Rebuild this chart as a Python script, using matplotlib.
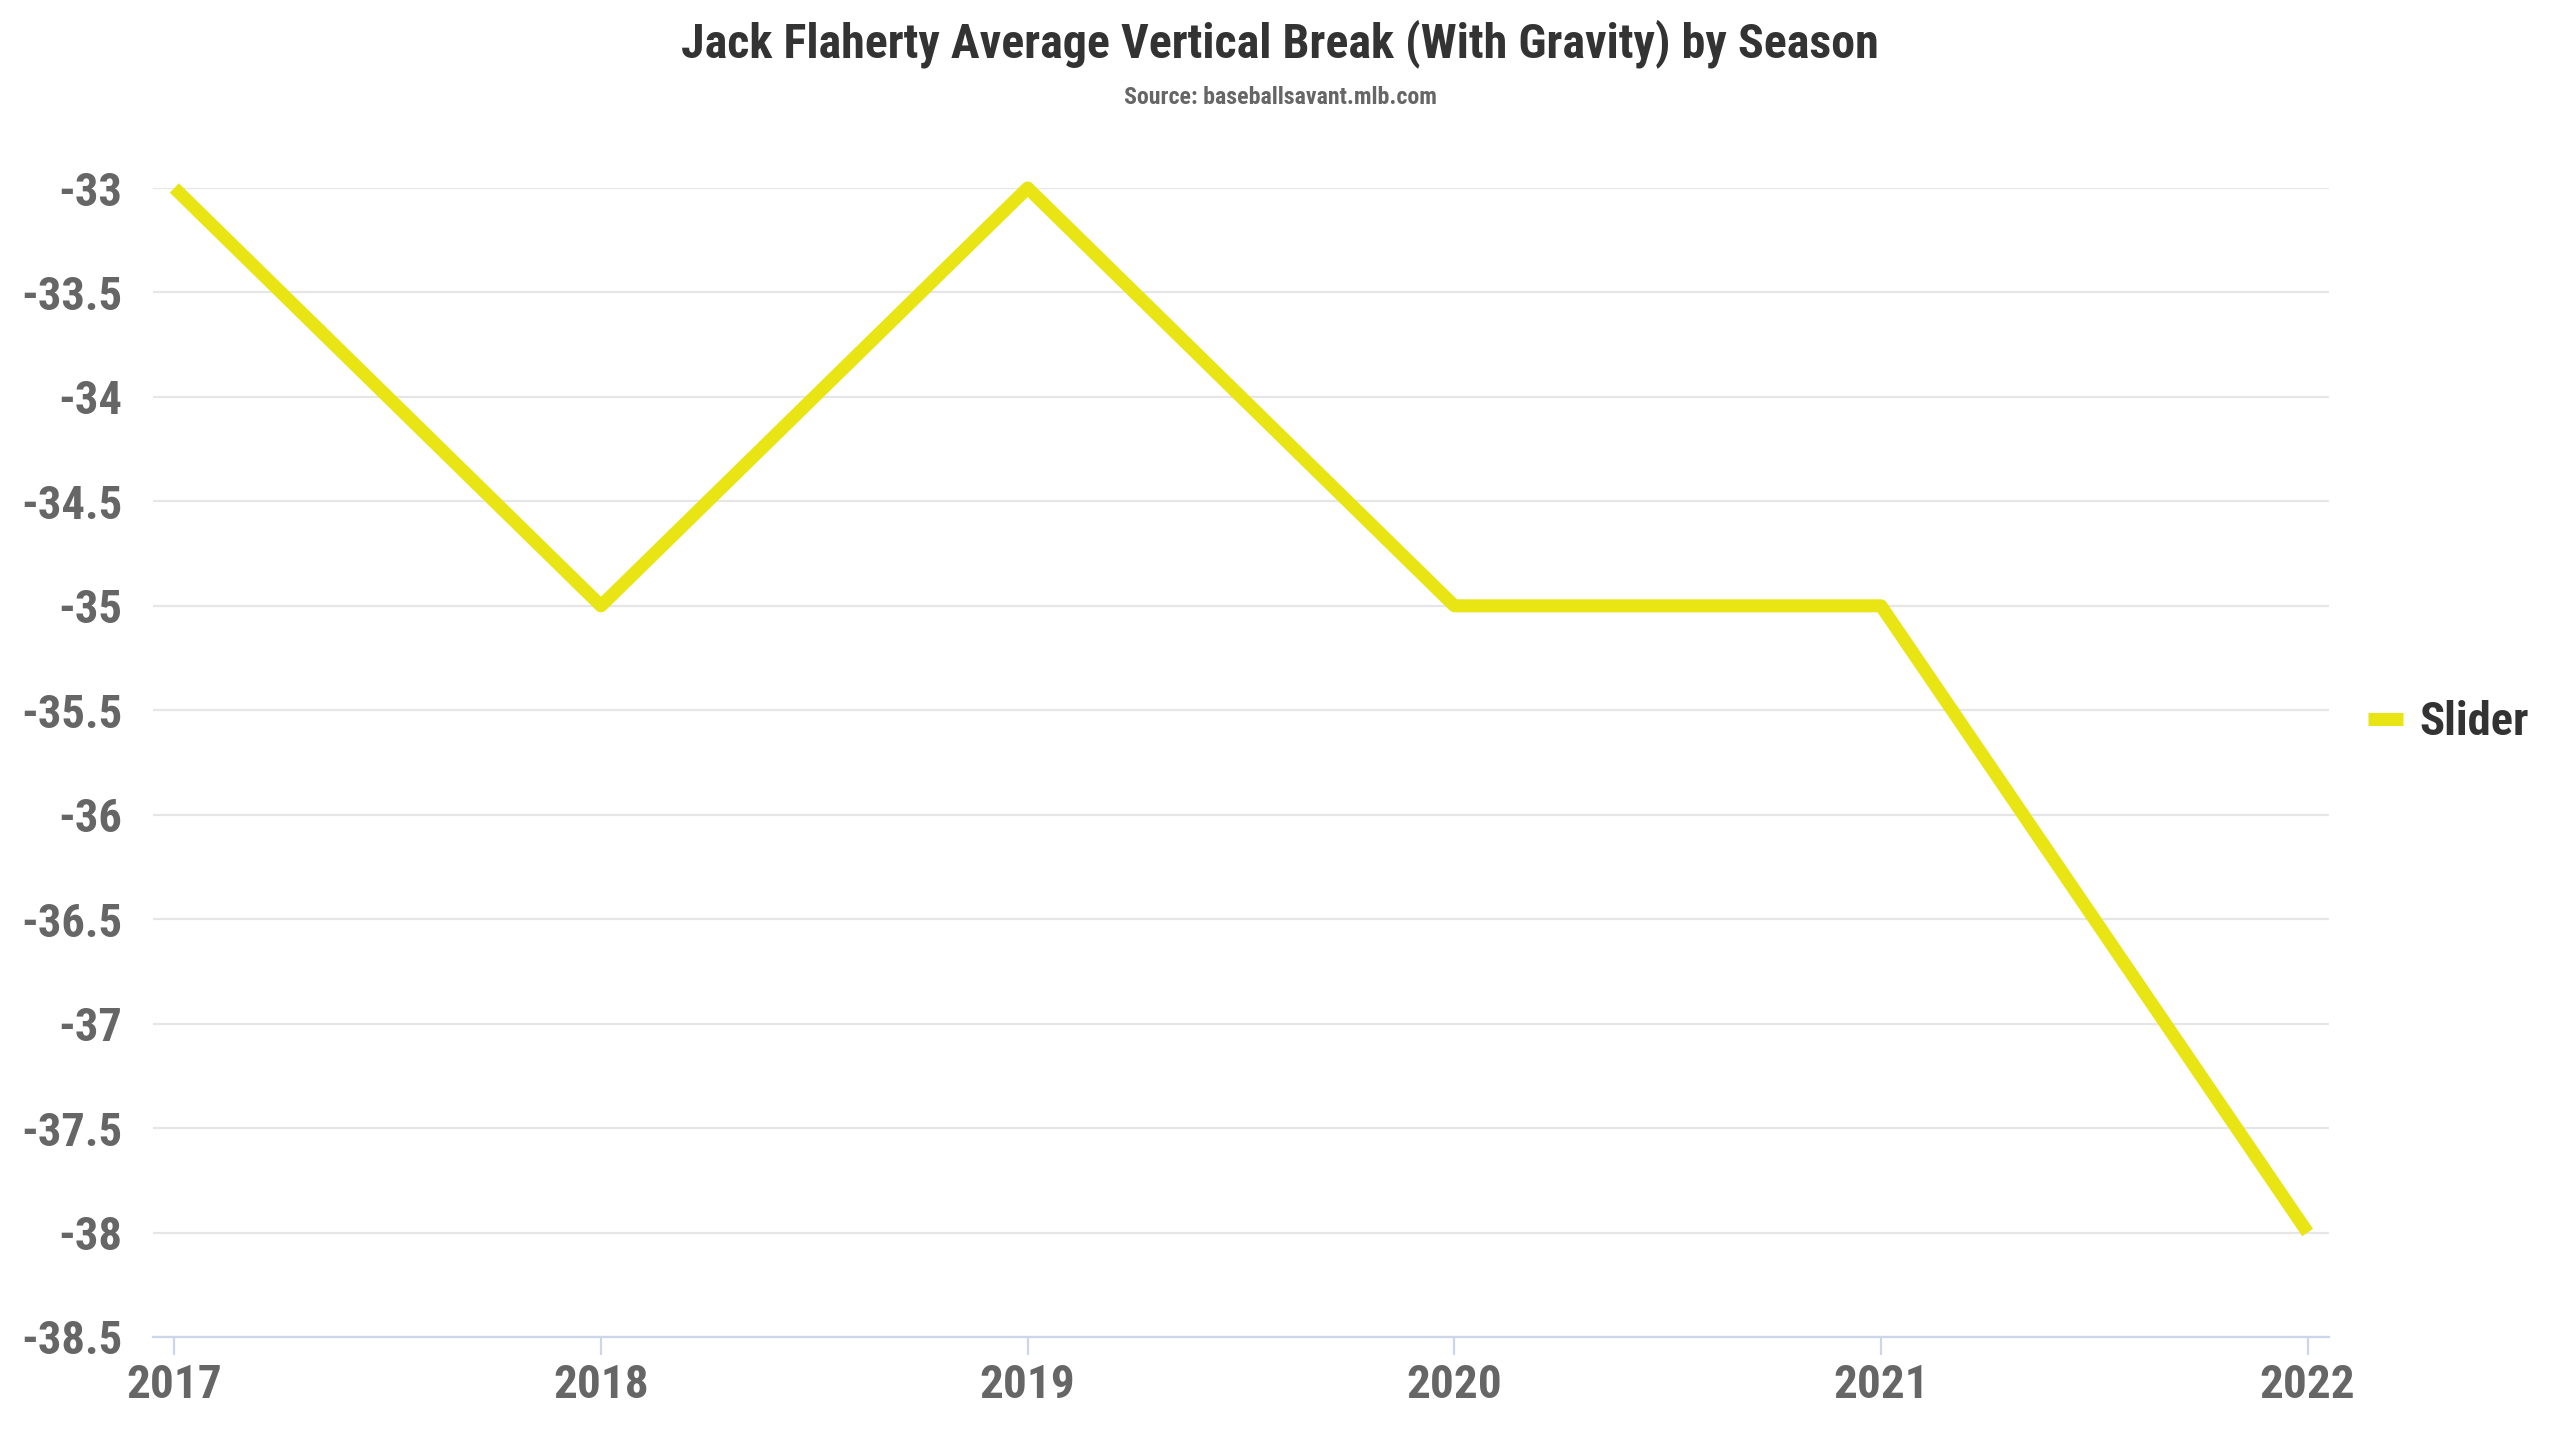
import matplotlib.pyplot as plt
from matplotlib.ticker import MultipleLocator, FuncFormatter

seasons = [2017, 2018, 2019, 2020, 2021, 2022]
slider = [-33, -35, -33, -35, -35, -38]

plt.rcParams['font.family'] = ['Roboto Condensed', 'Liberation Sans Narrow', 'Roboto', 'DejaVu Sans']

fig = plt.figure(figsize=(12.8, 7.2), dpi=200)
ax = fig.add_axes([153 / 2560, 1 - 1337 / 1440, (2329 - 153) / 2560, (1337 - 188) / 1440])

ax.plot(seasons, slider, color='#e9e515', linewidth=4.7, label='Slider',
        solid_capstyle='butt', clip_on=False, zorder=3)

ax.set_xlim(2017 - 0.05, 2022 + 0.05)
ax.set_ylim(-38.5, -33)
ax.yaxis.set_major_locator(MultipleLocator(0.5))
ax.yaxis.set_major_formatter(FuncFormatter(lambda v, p: f'{v:g}'))
ax.set_xticks(seasons)

ax.grid(axis='y', color='#e6e6e6', linewidth=0.8)
ax.set_axisbelow(True)
for s in ['top', 'right', 'left']:
    ax.spines[s].set_visible(False)
ax.spines['bottom'].set_color('#ccd6eb')
ax.spines['bottom'].set_linewidth(0.8)

ax.tick_params(axis='y', length=0, pad=11, labelsize=16.8, labelcolor='#666666')
ax.tick_params(axis='x', length=6.5, width=0.8, color='#ccd6eb', pad=3, labelsize=17, labelcolor='#666666')
for lab in ax.get_xticklabels() + ax.get_yticklabels():
    lab.set_fontweight('bold')

fig.text(0.5, 1 - 44 / 1440, 'Jack Flaherty Average Vertical Break (With Gravity) by Season',
         ha='center', va='center', fontsize=17.3, fontweight='bold', color='#333333')
fig.text(0.5, 1 - 98 / 1440, 'Source: baseballsavant.mlb.com',
         ha='center', va='center', fontsize=8.6, fontweight='bold', color='#666666')

leg = fig.legend(loc='center left', bbox_to_anchor=(2368 / 2560, 1 - 722 / 1440), frameon=False,
                 handlelength=0.75, handletextpad=0.35, borderaxespad=0, borderpad=0,
                 prop={'size': 16.8, 'weight': 'bold'})
for t in leg.get_texts():
    t.set_color('#333333')

fig.savefig('out.png', dpi=200, facecolor='white')
